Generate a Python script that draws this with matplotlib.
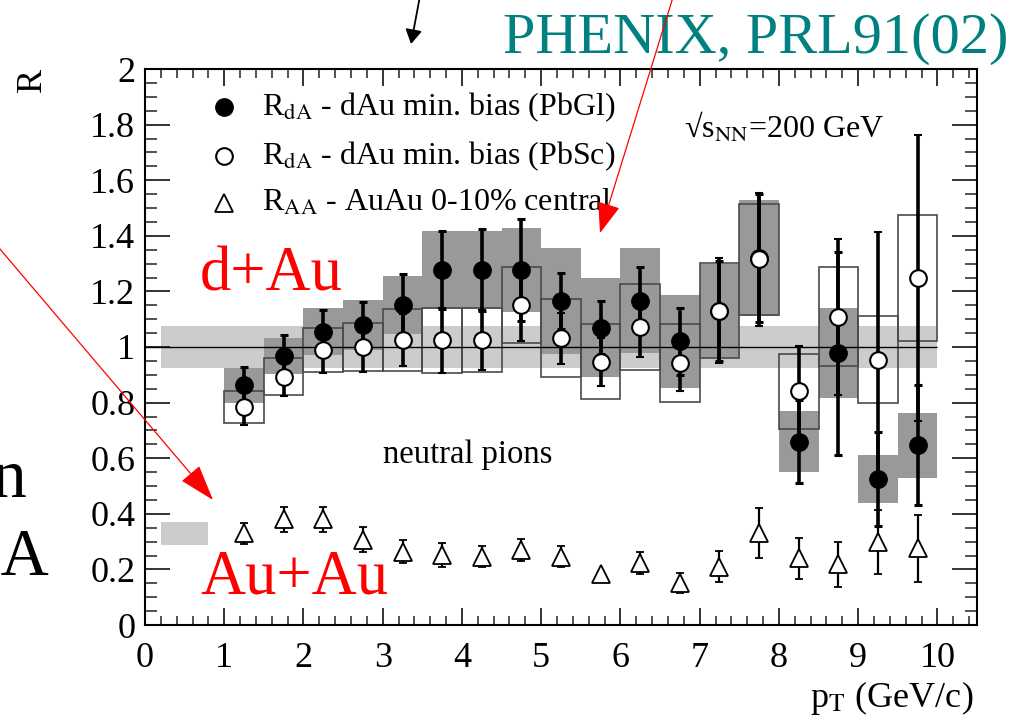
import matplotlib
matplotlib.use("Agg")
import matplotlib.pyplot as plt
from matplotlib.ticker import MultipleLocator, FuncFormatter
from matplotlib.patches import ArrowStyle, FancyArrowPatch

plt.rcParams['font.family'] = ['Liberation Serif', 'DejaVu Serif']
plt.rcParams['mathtext.fontset'] = 'stix'

# transverse momentum bin centres (GeV/c), bins are 0.5 wide
pt = [1.25, 1.75, 2.25, 2.75, 3.25, 3.75, 4.25, 4.75, 5.25,
      5.75, 6.25, 6.75, 7.25, 7.75, 8.25, 8.75, 9.25, 9.75]
bin_width = 0.5

# R_dA, d+Au minimum bias, PbGl calorimeter
r_pbgl = [0.863, 0.968, 1.055, 1.078, 1.151, 1.277, 1.277, 1.277, 1.165,
          1.07, 1.167, 1.02, 1.13, 1.32, 0.66, 0.977, 0.525, 0.647]
pbgl_stat = [0.065, 0.075, 0.078, 0.085, 0.11, 0.14, 0.146, 0.185, 0.10,
             0.095, 0.12, 0.12, 0.18, 0.23, 0.15, 0.366, 0.17, 0.215]
pbgl_sys = [0.063, 0.065, 0.085, 0.09, 0.105, 0.14, 0.139, 0.15, 0.19,
            0.177, 0.19, 0.168, 0.168, 0.21, 0.108, 0.162, 0.086, 0.117]

# R_dA, d+Au minimum bias, PbSc calorimeter
r_pbsc = [0.785, 0.893, 0.989, 1.001, 1.025, 1.025, 1.025, 1.151, 1.031,
          0.947, 1.073, 0.941, 1.131, 1.315, 0.84, 1.108, 0.955, 1.248]
pbsc_stat = [0.065, 0.068, 0.083, 0.09, 0.095, 0.117, 0.108, 0.13, 0.092,
             0.087, 0.11, 0.10, 0.19, 0.24, 0.164, 0.28, 0.46, 0.515]
pbsc_sys = [0.057, 0.066, 0.08, 0.087, 0.111, 0.117, 0.115, 0.136, 0.14,
            0.134, 0.154, 0.14, 0.17, 0.20, 0.136, 0.178, 0.156, 0.228]

# R_AA, Au+Au 0-10% central
r_auau = [0.33, 0.381, 0.381, 0.306, 0.264, 0.252, 0.246, 0.27, 0.246,
          0.183, 0.222, 0.15, 0.21, 0.332, 0.24, 0.218, 0.30, 0.276]
auau_err = [0.037, 0.045, 0.045, 0.045, 0.042, 0.043, 0.038, 0.039, 0.038,
            0.008, 0.04, 0.036, 0.055, 0.09, 0.073, 0.082, 0.115, 0.12]

# normalisation uncertainties
dau_norm_lo, dau_norm_hi = 0.925, 1.075
auau_norm_lo, auau_norm_hi = 0.288, 0.372

legend_labels = [r'R$_{\mathrm{dA}}$ - dAu min. bias (PbGl)',
                 r'R$_{\mathrm{dA}}$ - dAu min. bias (PbSc)',
                 r'R$_{\mathrm{AA}}$ - AuAu 0-10% central']

W, H = 1014, 717
fig = plt.figure(figsize=(W / 100, H / 100), dpi=100)
ax = fig.add_axes([145 / W, (H - 625) / H, (977 - 145) / W, (625 - 69) / H])
ax.set_xlim(0, 10.5)
ax.set_ylim(0, 2)

# normalisation bands
ax.fill_between([0.2, 10.0], dau_norm_lo, dau_norm_hi, color='#cccccc', lw=0, zorder=1)
ax.fill_between([0.2, 0.8], auau_norm_lo, auau_norm_hi, color='#cccccc', lw=0, zorder=1)

# systematic boxes
pbgl_lo = [v - s for v, s in zip(r_pbgl, pbgl_sys)]
pbsc_lo = [v - s for v, s in zip(r_pbsc, pbsc_sys)]
ax.bar(pt, [2 * s for s in pbgl_sys], bottom=pbgl_lo, width=bin_width,
       color='#999999', lw=0, zorder=2)
ax.bar(pt, [2 * s for s in pbsc_sys], bottom=pbsc_lo, width=bin_width,
       fill=False, edgecolor='#4a4a4a', lw=1.2, zorder=3)

ax.hlines(1.0, 0, 10, color='black', lw=1.0, zorder=3.5)

# data points
ax.errorbar(pt, r_auau, yerr=auau_err, fmt='^', ms=12.5, mfc='white', mec='black',
            mew=1.3, ecolor='black', elinewidth=1.6, capsize=3.2, capthick=2, zorder=4)
ax.errorbar(pt, r_pbgl, yerr=pbgl_stat, fmt='o', ms=12.5, mfc='black', mec='black',
            ecolor='black', elinewidth=2.6, capsize=3.0, capthick=2.2, zorder=5)
ax.errorbar(pt, r_pbsc, yerr=pbsc_stat, fmt='o', ms=12, mfc='white', mec='black',
            mew=1.5, ecolor='black', elinewidth=2.6, capsize=3.0, capthick=2.2, zorder=6)

# axis styling
ax.xaxis.set_major_locator(MultipleLocator(1))
ax.xaxis.set_minor_locator(MultipleLocator(0.2))
ax.yaxis.set_major_locator(MultipleLocator(0.2))
ax.yaxis.set_minor_locator(MultipleLocator(0.05))
ax.xaxis.set_major_formatter(FuncFormatter(lambda v, p: f'{v:g}'))
ax.yaxis.set_major_formatter(FuncFormatter(lambda v, p: f'{v:g}'))
ax.tick_params(which='both', direction='in', top=True, right=True, color='#333333')
ax.tick_params(axis='x', which='major', length=12, width=1.4, labelsize=26, pad=12)
ax.tick_params(axis='x', which='minor', length=6.5, width=1.2)
ax.tick_params(axis='y', which='major', length=18, width=1.4, labelsize=26, pad=7)
ax.tick_params(axis='y', which='minor', length=8.5, width=1.2)
for sp in ax.spines.values():
    sp.set_linewidth(1.5)

# legend
leg_x_marker, leg_x_text = 0.996, 1.475
leg_y = [1.863, 1.687, 1.518]
ax.plot([leg_x_marker], [leg_y[0]], 'o', ms=12.5, color='black', zorder=7)
ax.plot([leg_x_marker], [leg_y[1]], 'o', ms=12, mfc='white', mec='black', mew=1.5, zorder=7)
ax.plot([leg_x_marker], [leg_y[2]], '^', ms=12.5, mfc='white', mec='black', mew=1.3, zorder=7)
for y, lab in zip(leg_y, legend_labels):
    ax.text(leg_x_text, y, lab, fontsize=23, va='center', ha='left', zorder=7)

fig.text(684 / W, 1 - 138 / H, '\u221As$_{\\mathrm{NN}}$=200 GeV', fontsize=23,
         va='baseline', ha='left')
fig.text(383 / W, 1 - 463 / H, 'neutral pions', fontsize=23.5, va='baseline', ha='left')

# axis titles
fig.text(32 / W, 1 - 80 / H, 'R', rotation=90, fontsize=26, ha='center', va='center')
fig.text(973 / W, 1 - 707 / H, r'p$_{\mathrm{T}}$ (GeV/c)', fontsize=26,
         ha='right', va='baseline')

# slide annotations
fig.text(503 / W, 1 - 53 / H, 'PHENIX, PRL91(02)', fontsize=42, color='#008080',
         va='baseline', ha='left')
fig.text(200 / W, 1 - 290 / H, 'd+Au', fontsize=45, color='red', va='baseline', ha='left')
fig.text(200 / W, 1 - 593 / H, 'Au+Au', fontsize=45, color='red', va='baseline', ha='left')
fig.text(26 / W, 1 - 497 / H, 'n', fontsize=50, color='black', va='baseline', ha='right')
fig.text(49 / W, 1 - 575 / H, '+A', fontsize=48, color='black', va='baseline', ha='right')


def pix_arrow(start, end, color, lw, hl, hw, scale):
    fig.add_artist(FancyArrowPatch(
        (start[0], H - start[1]), (end[0], H - end[1]),
        transform=None, arrowstyle=ArrowStyle('-|>', head_length=hl, head_width=hw),
        mutation_scale=scale, color=color, lw=lw, shrinkA=0, shrinkB=0, zorder=10))


pix_arrow((674, -6), (600, 233), 'red', 0.9, 0.97, 0.36, 20)
pix_arrow((-6, 242), (213, 500), 'red', 0.9, 1.15, 0.375, 20)
pix_arrow((420, -4), (411, 44), 'black', 1.3, 0.86, 0.5, 10)

fig.savefig('out.png', dpi=100)
